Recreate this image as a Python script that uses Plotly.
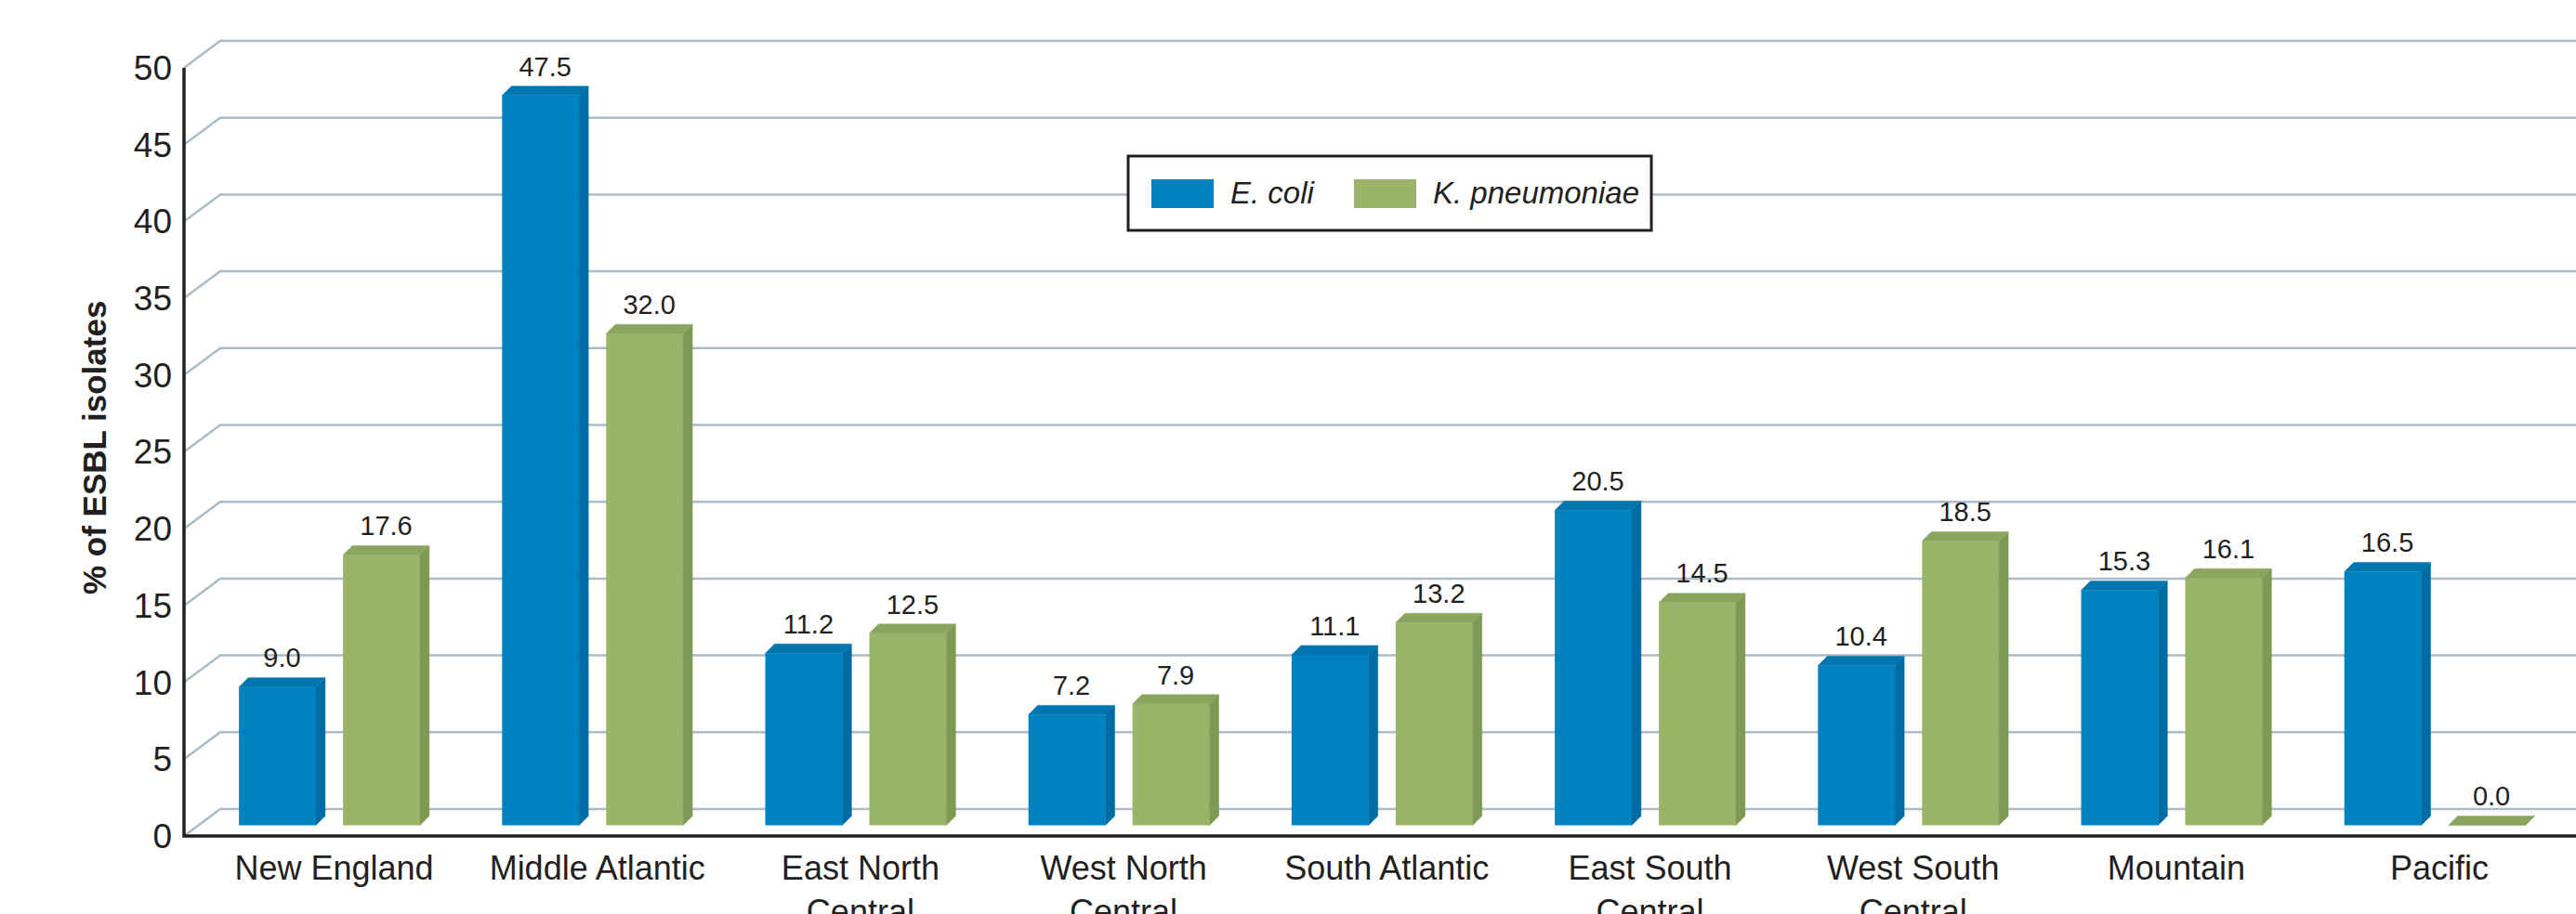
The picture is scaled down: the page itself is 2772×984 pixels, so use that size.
import plotly.graph_objects as go

# ---- data -----------------------------------------------------------------
categories = [
    "New England", "Middle Atlantic", "East North Central", "West North Central",
    "South Atlantic", "East South Central", "West South Central", "Mountain", "Pacific",
]
tick_labels = [
    "New England", "Middle Atlantic", "East North<br>Central", "West North<br>Central",
    "South Atlantic", "East South<br>Central", "West South<br>Central", "Mountain", "Pacific",
]
e_coli = [9.0, 47.5, 11.2, 7.2, 11.1, 20.5, 10.4, 15.3, 16.5]
k_pneumoniae = [17.6, 32.0, 12.5, 7.9, 13.2, 14.5, 18.5, 16.1, 0.0]
y_ticks = [0, 5, 10, 15, 20, 25, 30, 35, 40, 45, 50]

# ---- page geometry (pixels) -----------------------------------------------
W, H = 2772, 984
PLOT_L, PLOT_B = 190, 906      # left / bottom edge of the plotting area
PX_X = 283.2                   # pixels per category
PX_Y = 16.54                   # pixels per percentage point
X0_PX = 359.5                  # pixel of the first category centre
Y0_PX = 900                    # pixel of 0 % on the front axis

x_min = (PLOT_L - X0_PX) / PX_X
x_max = (W - X0_PX) / PX_X
y_min = -(PLOT_B - Y0_PX) / PX_Y
y_max = Y0_PX / PX_Y

BAR_W = 82.8 / PX_X            # width of a bar's front face
DEPTH_X = 10 / PX_X            # 3-D depth of each bar
DEPTH_Y = 10 / PX_Y
GAP = 112 / PX_X               # distance between the two bars of a group
BASE = 11.5 / PX_Y             # bars stand slightly behind the front axis
LABEL_LIFT = 4 / PX_Y          # extra space between a bar top and its label
WALL_X = 39 / PX_X             # offset of the back wall grid
WALL_Y = 29 / PX_Y
AXIS_X = (198 - X0_PX) / PX_X  # x position of the vertical axis line

INK = "#231f20"
GRID = "#a9bcc8"
FONT = "Liberation Sans, Arial, sans-serif"

series = [
    dict(name="E. coli", values=e_coli, shift=-DEPTH_X / 2 - GAP / 2,
         front="#0082c1", side="#006ca3", top="#0076b0"),
    dict(name="K. pneumoniae", values=k_pneumoniae, shift=-DEPTH_X / 2 + GAP / 2,
         front="#9ab469", side="#7f9955", top="#8aa55e"),
]


def px_x(p):
    return (p - PLOT_L) / (W - PLOT_L)


def px_y(p):
    return (PLOT_B - p) / PLOT_B


fig = go.Figure()

for s in series:
    xs = [i + s["shift"] for i in range(len(categories))]
    # front faces
    fig.add_trace(go.Bar(
        x=xs, y=s["values"], base=BASE, width=BAR_W,
        marker=dict(color=s["front"], line=dict(width=0)),
        name=s["name"], showlegend=False, hoverinfo="skip",
    ))
    # side and top faces
    side_x, side_y, top_x, top_y = [], [], [], []
    for xc, v in zip(xs, s["values"]):
        xl, xr = xc - BAR_W / 2, xc + BAR_W / 2
        y0, y1 = BASE, BASE + v
        side_x += [xr, xr + DEPTH_X, xr + DEPTH_X, xr, xr, None]
        side_y += [y0, y0 + DEPTH_Y, y1 + DEPTH_Y, y1, y0, None]
        top_x += [xl, xl + DEPTH_X, xr + DEPTH_X, xr, xl, None]
        top_y += [y1, y1 + DEPTH_Y, y1 + DEPTH_Y, y1, y1, None]
    fig.add_trace(go.Scatter(
        x=side_x, y=side_y, mode="lines", fill="toself", fillcolor=s["side"],
        line=dict(color=s["side"], width=0.5), showlegend=False, hoverinfo="skip",
    ))
    fig.add_trace(go.Scatter(
        x=top_x, y=top_y, mode="lines", fill="toself", fillcolor=s["top"],
        line=dict(color=s["top"], width=0.5), showlegend=False, hoverinfo="skip",
    ))
    # value labels above each bar
    fig.add_trace(go.Scatter(
        x=[xc + DEPTH_X / 2 for xc in xs],
        y=[BASE + v + DEPTH_Y + LABEL_LIFT for v in s["values"]],
        text=[f"{v:.1f}" for v in s["values"]],
        mode="text", textposition="top center",
        textfont=dict(family=FONT, size=29, color=INK),
        showlegend=False, hoverinfo="skip", cliponaxis=False,
    ))

# back-wall grid with its diagonal connectors to the front axis
shapes = []
for v in y_ticks:
    shapes.append(dict(
        type="path", xref="x", yref="y", layer="below",
        path=f"M {AXIS_X},{v} L {AXIS_X + WALL_X},{v + WALL_Y} L {x_max + 0.1},{v + WALL_Y}",
        line=dict(color=GRID, width=2.5),
    ))
# front axis lines
shapes.append(dict(
    type="path", xref="x", yref="y", layer="above",
    path=f"M {AXIS_X},{y_ticks[-1]} L {AXIS_X},0 L {x_max + 0.1},0",
    line=dict(color=INK, width=3.5),
))

# boxed legend
shapes.append(dict(
    type="rect", xref="paper", yref="paper", layer="above",
    x0=px_x(1214), x1=px_x(1777), y0=px_y(248), y1=px_y(168),
    line=dict(color=INK, width=3), fillcolor="white",
))
legend_items = [(1239, 1322), (1457, 1540)]
annotations = []
for s, (sw_left, txt_left) in zip(series, legend_items):
    shapes.append(dict(
        type="rect", xref="paper", yref="paper", layer="above",
        x0=px_x(sw_left), x1=px_x(sw_left + 67), y0=px_y(224), y1=px_y(193),
        line=dict(width=0), fillcolor=s["front"],
    ))
    annotations.append(dict(
        xref="paper", yref="paper", x=px_x(txt_left), y=px_y(208),
        xanchor="left", yanchor="middle", showarrow=False,
        text=f"<i>{s['name']}</i>", font=dict(family=FONT, size=33, color=INK),
    ))

# y-axis title
annotations.append(dict(
    xref="paper", yref="paper", x=px_x(101), y=px_y(482),
    xanchor="center", yanchor="middle", showarrow=False, textangle=-90,
    text="<b>% of ESBL isolates</b>", font=dict(family=FONT, size=35, color=INK),
))

fig.update_layout(
    width=W, height=H, autosize=False,
    margin=dict(l=PLOT_L, r=0, t=0, b=H - PLOT_B, pad=0),
    paper_bgcolor="white", plot_bgcolor="white",
    barmode="overlay", showlegend=False,
    shapes=shapes, annotations=annotations,
    xaxis=dict(
        range=[x_min, x_max], tickmode="array",
        tickvals=list(range(len(categories))), ticktext=tick_labels,
        tickangle=0, showgrid=False, zeroline=False, showline=False, ticks="",
        tickfont=dict(family=FONT, size=36, color=INK), ticklabelstandoff=4,
        automargin=False,
    ),
    yaxis=dict(
        range=[y_min, y_max], tickmode="array", tickvals=y_ticks,
        showgrid=False, zeroline=False, showline=False, ticks="",
        tickfont=dict(family=FONT, size=37, color=INK), ticklabelstandoff=4,
        automargin=False,
    ),
)

fig.write_html("out.html")
